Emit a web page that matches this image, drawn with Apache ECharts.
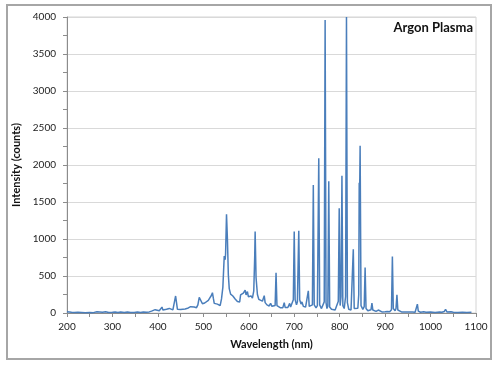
<!DOCTYPE html>
<html>
<head>
<meta charset="utf-8">
<script src="https://cdn.jsdelivr.net/npm/echarts@6/dist/echarts.min.js"></script>
<style>
html,body{margin:0;padding:0;background:#fff;}
#chart{width:501px;height:365px;}
</style>
</head>
<body>
<div id="chart"></div>
<script>
var chartTitle = 'Argon Plasma';
var xAxisName = 'Wavelength (nm)';
var yAxisName = 'Intensity (counts)';

var wavelength = [
  200,204,210,216,220,224,232,240,250,258,
  266,270,278,285,292,300,306,312,318,326,
  333,340,348,355,362,368,375,381,386,390,
  394,398,403,407,409,411,415,419,422,425,
  428,433,437,439,441,443,450,460,467,472,
  476,480,485,488,491,494,498,503,507,511,
  514,518,520,522,524,528,531,534,537,540,
  543,546,548,549,551,553,555,557,560,565,
  570,575,580,582,585,588,590,592,594,597,
  599,602,605,608,611,613,614,616,619,622,
  626,630,634,636,640,645,648,651,655,658,
  660,662,665,670,675,678,680,686,690,692,
  696,698,700,702,705,707,710,712,715,717,
  720,725,729,731,733,737,740,742,744,748,
  751,754,756,760,764,766,768,770,772,774,
  776,778,782,786,790,794,797,799,801,803,
  805,807,810,813,815,817,820,825,828,830,
  832,836,840,842,843,844,845,847,851,854,
  856,858,862,866,869,871,873,877,880,885,
  887,893,900,905,910,914,916,918,922,924,
  926,928,932,936,939,941,950,960,966,969,
  971,973,978,985,990,1000,1010,1020,1025,1030,
  1033,1036,1040,1045,1050,1060,1070,1080,1090
];
var intensity = [
  18,8,10,6,25,10,8,5,8,5,
  18,8,10,16,6,10,14,6,14,6,
  12,6,8,14,6,12,10,15,25,38,
  45,28,30,35,80,40,32,50,40,62,
  45,42,50,230,140,50,48,55,68,85,
  100,82,72,110,210,185,125,135,140,170,
  200,240,275,200,130,125,120,100,100,190,
  350,770,720,800,1335,1000,520,330,255,230,
  190,155,150,245,240,270,250,310,245,290,
  220,210,230,200,300,750,1100,480,250,185,
  170,160,235,140,110,95,130,90,85,100,
  545,100,80,70,72,140,75,75,130,80,
  82,180,1100,180,110,150,1110,180,120,150,
  90,80,95,300,90,70,110,1730,110,70,
  100,2090,110,60,80,150,3960,140,60,90,
  1780,80,50,40,42,55,160,1415,100,220,
  1855,100,60,220,4000,140,50,40,60,860,
  60,42,65,250,1760,1650,2260,100,50,85,
  615,60,30,32,45,135,40,25,22,40,
  20,15,16,20,16,45,765,60,30,60,
  245,40,20,15,30,15,15,12,10,30,
  120,25,10,16,10,12,8,15,10,20,
  50,15,10,18,10,8,10,8,10
];

var chart = echarts.init(document.getElementById('chart'), null, {renderer:'canvas'});
var fontFam = 'Lato, "Open Sans", sans-serif';
var plain = function(v){ return String(v); };
var option = {
  animation: false,
  backgroundColor: '#fff',
  graphic: [
    {type:'rect', shape:{x:7, y:5, width:484, height:354}, style:{fill:'none', stroke:'#a6a6a6', lineWidth:2}, z:-1},
    {type:'text', x:473, y:28, style:{text:chartTitle, align:'right', verticalAlign:'middle', font:'bold 13px ' + fontFam, fill:'#111'}}
  ],
  grid: {left:67, right:25, top:17, bottom:52, show:true, borderColor:'#d4d4d4', borderWidth:1},
  xAxis: {
    type:'value', min:200, max:1100, interval:100,
    name: xAxisName, nameLocation:'middle', nameGap:26,
    nameTextStyle:{fontFamily:fontFam, fontSize:11, fontWeight:'bold', color:'#111'},
    axisLine:{show:true, lineStyle:{color:'#8c8c8c', width:1}},
    axisTick:{show:true, length:4, lineStyle:{color:'#8c8c8c'}},
    minorTick:{show:true, splitNumber:2, length:4, lineStyle:{color:'#8c8c8c'}},
    splitLine:{show:false},
    axisLabel:{margin:9, fontFamily:fontFam, fontSize:10, color:'#222', formatter:plain}
  },
  yAxis: {
    type:'value', min:0, max:4000, interval:500,
    name: yAxisName, nameLocation:'middle', nameGap:37, nameRotate:90,
    nameTextStyle:{fontFamily:fontFam, fontSize:11, fontWeight:'bold', color:'#111'},
    axisLine:{show:true, lineStyle:{color:'#8c8c8c', width:1}},
    axisTick:{show:true, length:4, lineStyle:{color:'#8c8c8c'}},
    minorTick:{show:true, splitNumber:2, length:4, lineStyle:{color:'#8c8c8c'}},
    splitLine:{show:true, lineStyle:{color:'#d9d9d9', width:1}},
    axisLabel:{margin:11, fontFamily:fontFam, fontSize:10, color:'#222', formatter:plain}
  },
  series: [{
    type:'line',
    data: wavelength.map(function(w,i){return [w, intensity[i]];}),
    showSymbol:false,
    symbol:'none',
    lineStyle:{color:'#4a7ebb', width:1.5},
    itemStyle:{color:'#4a7ebb'}
  }]
};
chart.setOption(option);
</script>
</body>
</html>
